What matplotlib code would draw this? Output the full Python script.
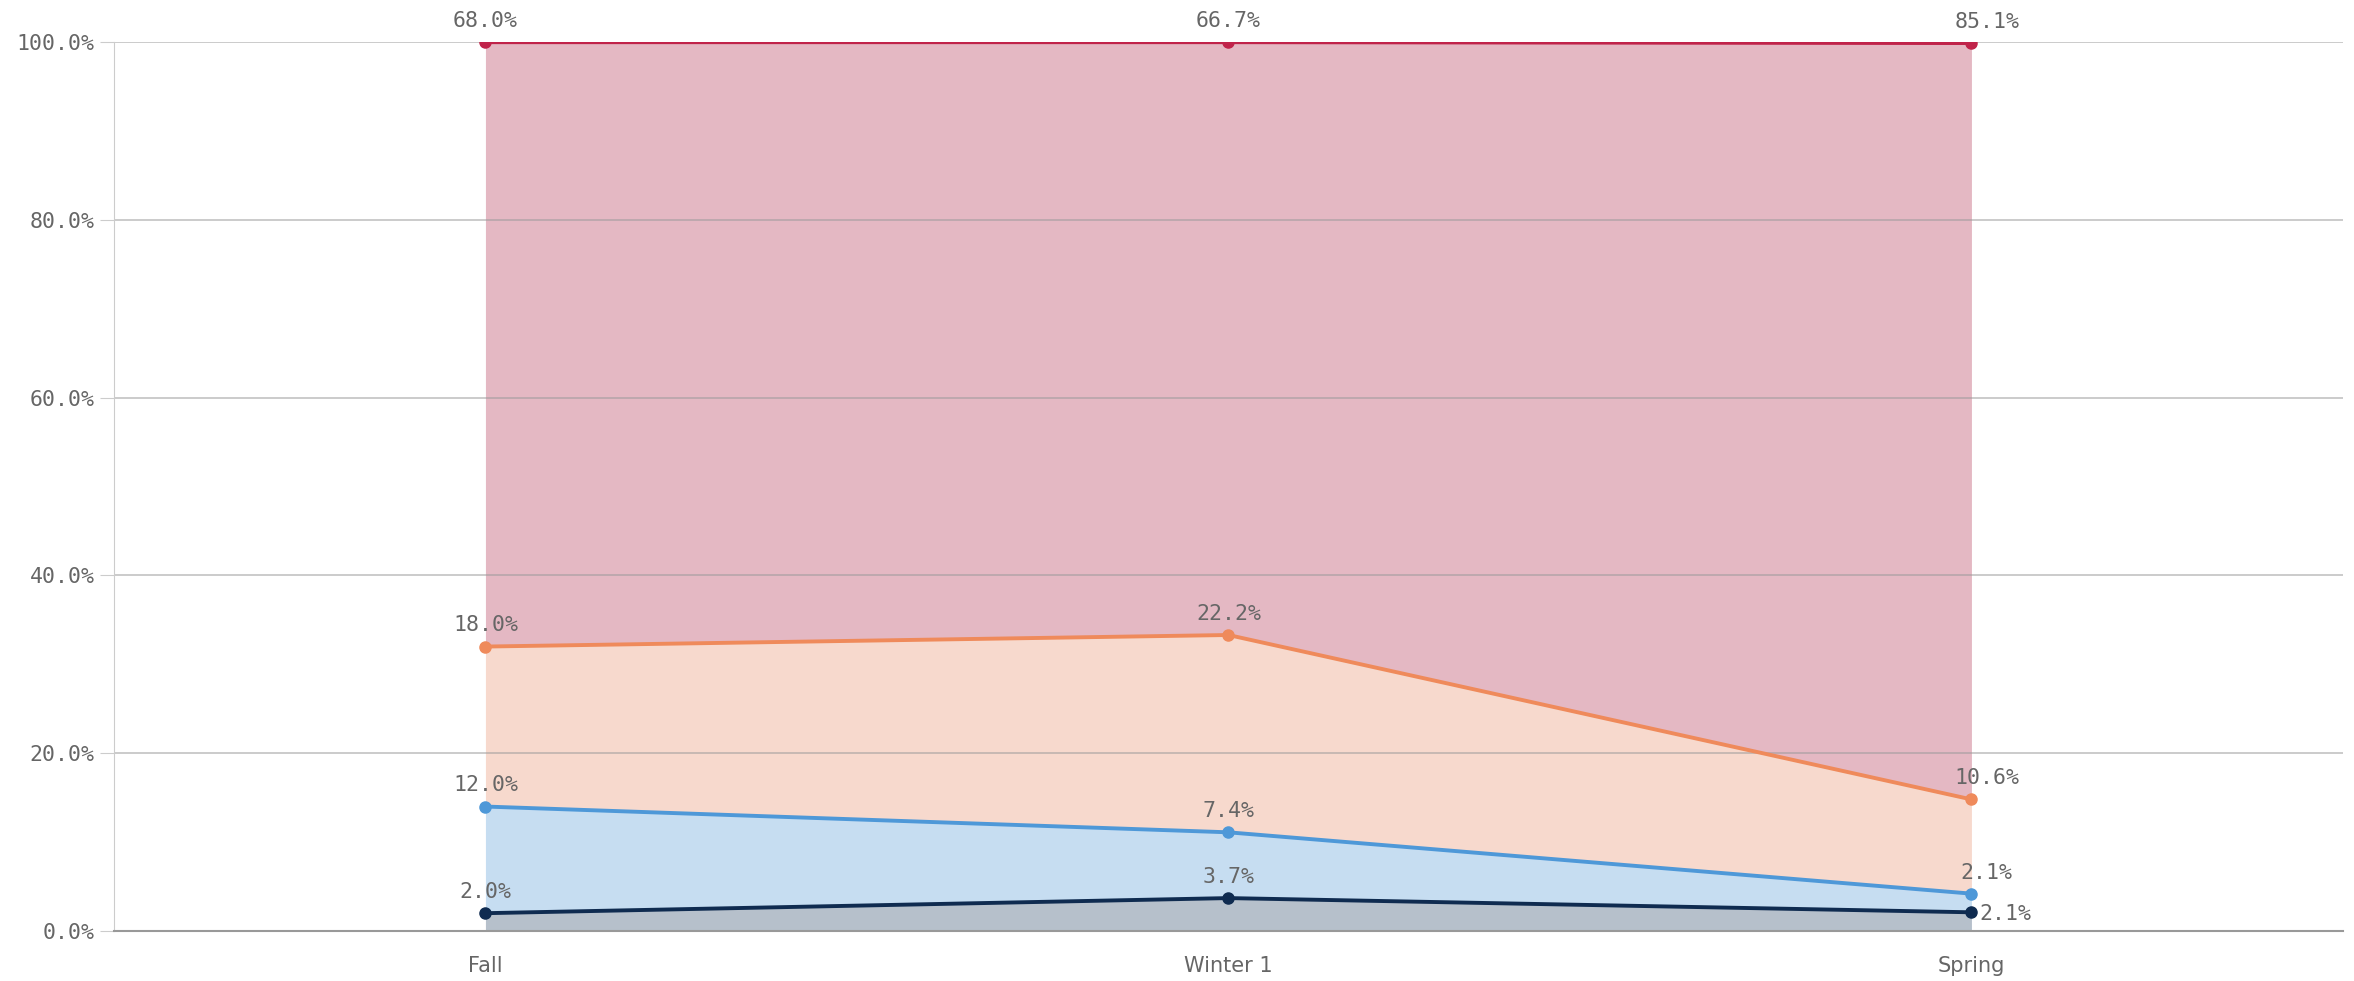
import matplotlib
matplotlib.use("Agg")
import matplotlib.pyplot as plt
import numpy as np

categories = ["Fall", "Winter 1", "Spring"]
series_names = ["Navy", "Blue", "Orange", "Red"]
navy = [2.0, 3.7, 2.1]
blue = [12.0, 7.4, 2.1]
orange = [18.0, 22.2, 10.6]
red = [68.0, 66.7, 85.1]
yticks = [0, 20, 40, 60, 80, 100]

series = [navy, blue, orange, red]
line_colors = ["#0f2b50", "#4e98d8", "#ef8a5b", "#c0234a"]
fill_colors = ["#b6c0cb", "#c6ddf1", "#f7d9cd", "#e4b8c3"]

fig = plt.figure(figsize=(23.54, 9.81), dpi=100)
ax = fig.add_axes([0.0484, 0.051, 0.9469, 0.906])
x = np.arange(len(categories))

cum_prev = np.zeros(len(categories))
cums = []
for vals in series:
    cum = cum_prev + np.array(vals)
    ax.fill_between(x, cum_prev, cum, color=fill_colors[len(cums)], linewidth=0, zorder=1)
    cums.append(cum)
    cum_prev = cum

for yv in yticks[1:]:
    ax.axhline(yv, color="#999999", alpha=0.55, linewidth=1.3, zorder=2)

for i, cum in enumerate(cums):
    ax.plot(x, cum, color=line_colors[i], linewidth=2.8, marker="o", markersize=8, zorder=4)

label_font = dict(family="DejaVu Sans Mono", fontsize=15.5, color="#666666")
for i, (vals, cum) in enumerate(zip(series, cums)):
    for j in range(len(categories)):
        txt = f"{vals[j]:.1f}%"
        if i == 0 and j == 2:
            ax.annotate(txt, (x[j], cum[j]), xytext=(6, -1), textcoords="offset points",
                        ha="left", va="center", zorder=5, **label_font)
        else:
            dx = 11 if j == 2 else 0
            ax.annotate(txt, (x[j], cum[j]), xytext=(dx, 8), textcoords="offset points",
                        ha="center", va="bottom", zorder=5, **label_font)

ax.set_xlim(-0.5, 2.5)
ax.set_ylim(0, 100)
ax.set_yticks(yticks)
ax.set_yticklabels([f"{v:.1f}%" for v in yticks], family="DejaVu Sans Mono", fontsize=15.5, color="#666666")
ax.set_xticks(x)
ax.set_xticklabels(categories, fontsize=15, color="#666666")
for s in ["top", "right"]:
    ax.spines[s].set_visible(False)
ax.spines["left"].set_color("#cccccc")
ax.spines["bottom"].set_color("#999999")
ax.spines["bottom"].set_linewidth(1.5)
ax.tick_params(axis="y", length=10, color="#cccccc", pad=4)
ax.tick_params(axis="x", length=0, pad=18)

fig.savefig("out.png", dpi=100)
